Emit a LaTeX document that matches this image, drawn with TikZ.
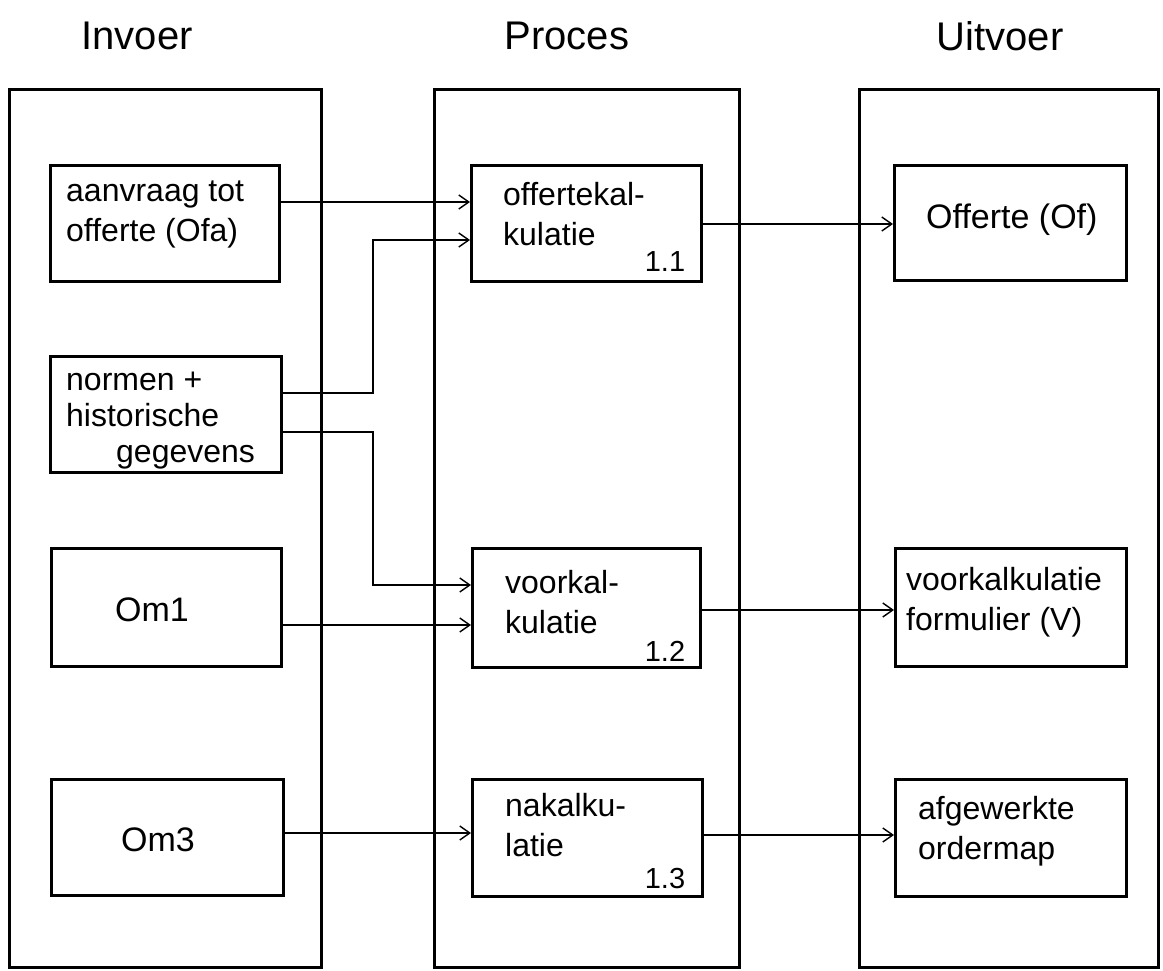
\documentclass[tikz,border=0pt]{standalone}
\usepackage{fontspec}
\setmainfont{Liberation Sans}
\usetikzlibrary{arrows.meta}
\begin{document}
\begin{tikzpicture}[x=1pt,y=-1pt,
  lane/.style={draw, line width=3pt, rectangle, anchor=north west, inner sep=0pt},
  box/.style={draw, line width=2.8pt, rectangle, anchor=north west, inner sep=0pt,
              minimum width=230pt, minimum height=116pt},
  head/.style={font=\fontsize{40}{44}\selectfont},
  txt/.style={font=\fontsize{32}{40}\selectfont, align=left, anchor=west, inner sep=0pt},
  num/.style={font=\fontsize{29}{32}\selectfont, inner sep=0pt},
  flow/.style={line width=1.4pt, -{Straight Barb[length=10pt,width=14pt,line width=1.4pt]}},
  wire/.style={line width=1.4pt}]
\useasboundingbox (0,0) rectangle (1163,971);

% column headings
\node[head] (hin)  at (137,36) {Invoer};
\node[head] (hpr)  at (567,36) {Proces};
\node[head] (huit) at (1000,36) {Uitvoer};

% the three columns
\node[lane, minimum width=312pt, minimum height=878pt] (cin)  at (8,88) {};
\node[lane, minimum width=305pt, minimum height=878pt] (cpr)  at (433,88) {};
\node[lane, minimum width=299pt, minimum height=878pt] (cuit) at (858,88) {};

% input boxes
\node[box, minimum width=229pt] (ofa)  at (49,164) {};
\node[box, minimum width=231pt] (norm) at (49,355) {};
\node[box, minimum width=230pt, minimum height=118pt] (om1) at (50,547) {};
\node[box, minimum width=232pt] (om3)  at (50,778) {};

% process boxes
\node[box] (off)  at (470,164) {};
\node[box, minimum width=228pt, minimum height=119pt] (voor) at (471,547) {};
\node[box, minimum width=230pt, minimum height=117pt] (na)   at (471,778) {};

% output boxes
\node[box, minimum width=232pt, minimum height=115pt] (of)   at (893,164) {};
\node[box, minimum width=231pt, minimum height=118pt] (form) at (894,547) {};
\node[box, minimum width=231pt, minimum height=117pt] (afg)  at (894,778) {};

% texts of the input boxes
\node[txt] (tofa)  at (66,214) {aanvraag tot\\offerte (Ofa)};
\node[txt, font=\fontsize{32}{36}\selectfont] (tnorm) at (66,421) {normen +\\historische\\\hspace*{50pt}gegevens};
\node[txt, anchor=center, font=\fontsize{34}{40}\selectfont] (tom1) at (152,610) {Om1};
\node[txt, anchor=center, font=\fontsize{34}{40}\selectfont] (tom3) at (158,840) {Om3};

% texts of the process boxes
\node[txt] (toff)  at (503,214) {offertekal-\\kulatie};
\node[num] (noff)  at (665,262) {1.1};
\node[txt] (tvoor) at (505,602) {voorkal-\\kulatie};
\node[num] (nvoor) at (665,651) {1.2};
\node[txt] (tna)   at (505,825) {nakalku-\\latie};
\node[num] (nna)   at (665,879) {1.3};

% texts of the output boxes
\node[txt, font=\fontsize{34}{40}\selectfont] (tof) at (926,220) {Offerte (Of)};
\node[txt] (tform) at (906,602) {voorkalkulatie\\formulier (V)};
\node[txt] (tafg)  at (918,831) {afgewerkte\\ordermap};

% data flows
\coordinate (split) at (373,0);
\draw[flow] (ofa.east |- 0,202) -- (off.west |- 0,202);
\draw[flow] (norm.east |- 0,393) -- (split |- 0,393) |- (off.west |- 0,240);
\draw[flow] (norm.east |- 0,432) -- (split |- 0,432) |- (voor.west |- 0,585);
\draw[flow] (om1.east |- 0,625) -- (voor.west |- 0,625);
\draw[flow] (om3.east |- 0,833) -- (na.west |- 0,833);

\draw[flow] (off.east |- 0,224) -- (of.west |- 0,224);
\draw[flow] (voor.east |- 0,610) -- (form.west |- 0,610);
\draw[flow] (na.east |- 0,835) -- (afg.west |- 0,835);
\end{tikzpicture}
\end{document}
